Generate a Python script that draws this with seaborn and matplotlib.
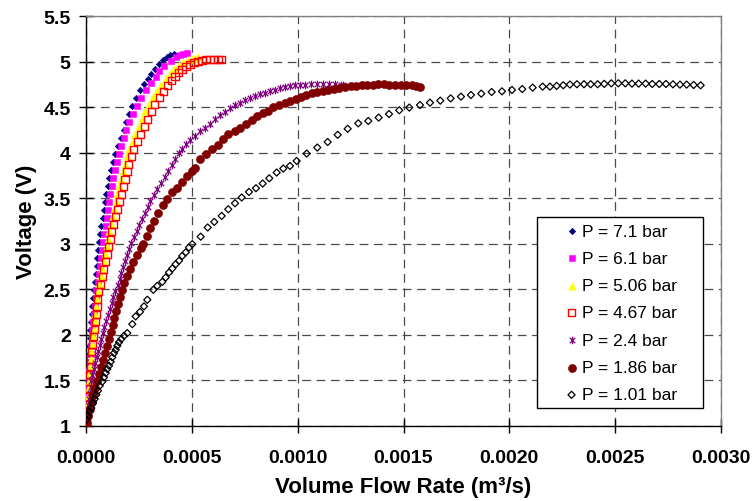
import matplotlib
matplotlib.use("Agg")
import matplotlib.pyplot as plt
from matplotlib.path import Path
from matplotlib.ticker import FixedLocator, FormatStrFormatter
import seaborn as sns

# ---------------- data ----------------
series_labels = ["P = 7.1 bar", "P = 6.1 bar", "P = 5.06 bar", "P = 4.67 bar",
                 "P = 2.4 bar", "P = 1.86 bar", "P = 1.01 bar"]

flow_71 = [0.0, 0.0000017, 0.0000033, 0.0000047, 0.0000066, 0.0000080, 0.0000099, 0.0000113,
           0.0000132, 0.0000151, 0.0000165, 0.0000184, 0.0000208, 0.0000241, 0.0000274, 0.0000307,
           0.0000340, 0.0000373, 0.0000416, 0.0000458, 0.0000501, 0.0000539, 0.0000581, 0.0000624,
           0.0000676, 0.0000728, 0.0000780, 0.0000827, 0.0000879, 0.0000945, 0.0001025, 0.0001101,
           0.0001181, 0.0001261, 0.0001370, 0.0001521, 0.0001663, 0.0001795, 0.0001913, 0.0002036,
           0.0002154, 0.0002339, 0.0002528, 0.0002717, 0.0002906, 0.0003071, 0.0003260, 0.0003449,
           0.0003638, 0.0003827, 0.0003992, 0.0004157]
volt_71 = [1.000, 1.088, 1.175, 1.263, 1.351, 1.439, 1.526, 1.614,
           1.702, 1.789, 1.877, 1.965, 2.053, 2.140, 2.228, 2.316,
           2.404, 2.491, 2.579, 2.667, 2.754, 2.842, 2.930, 3.018,
           3.105, 3.193, 3.281, 3.368, 3.456, 3.544, 3.632, 3.719,
           3.807, 3.895, 3.982, 4.070, 4.158, 4.246, 4.333, 4.421,
           4.509, 4.596, 4.684, 4.750, 4.805, 4.860, 4.914, 4.969,
           5.013, 5.046, 5.068, 5.079]

flow_61 = [0.0, 0.0000019, 0.0000043, 0.0000061, 0.0000085, 0.0000104, 0.0000128, 0.0000156,
           0.0000184, 0.0000213, 0.0000241, 0.0000274, 0.0000302, 0.0000340, 0.0000373, 0.0000406,
           0.0000454, 0.0000491, 0.0000548, 0.0000600, 0.0000657, 0.0000709, 0.0000765, 0.0000817,
           0.0000869, 0.0000926, 0.0000978, 0.0001030, 0.0001087, 0.0001143, 0.0001219, 0.0001290,
           0.0001361, 0.0001465, 0.0001564, 0.0001654, 0.0001781, 0.0001904, 0.0002031, 0.0002202,
           0.0002395, 0.0002608, 0.0002858, 0.0003094, 0.0003298, 0.0003449, 0.0003685, 0.0004016,
           0.0004252, 0.0004441, 0.0004606, 0.0004772]
volt_61 = [1.000, 1.088, 1.175, 1.263, 1.351, 1.439, 1.526, 1.614,
           1.702, 1.789, 1.877, 1.965, 2.053, 2.140, 2.228, 2.316,
           2.404, 2.491, 2.579, 2.667, 2.754, 2.842, 2.930, 3.018,
           3.105, 3.193, 3.281, 3.368, 3.456, 3.544, 3.632, 3.719,
           3.807, 3.895, 3.982, 4.070, 4.158, 4.246, 4.333, 4.421,
           4.509, 4.596, 4.684, 4.761, 4.827, 4.893, 4.947, 5.002,
           5.046, 5.068, 5.079, 5.090]

flow_506 = [0.0, 0.0000019, 0.0000043, 0.0000061, 0.0000085, 0.0000109, 0.0000128, 0.0000156,
            0.0000184, 0.0000213, 0.0000250, 0.0000288, 0.0000331, 0.0000369, 0.0000406, 0.0000439,
            0.0000477, 0.0000515, 0.0000553, 0.0000624, 0.0000699, 0.0000761, 0.0000836, 0.0000902,
            0.0000973, 0.0001039, 0.0001106, 0.0001167, 0.0001257, 0.0001328, 0.0001403, 0.0001479,
            0.0001573, 0.0001644, 0.0001739, 0.0001824, 0.0001932, 0.0002046, 0.0002197, 0.0002334,
            0.0002504, 0.0002636, 0.0002802, 0.0002972, 0.0003175, 0.0003354, 0.0003543, 0.0003756,
            0.0003969, 0.0004181, 0.0004394, 0.0004606, 0.0004819, 0.0005008, 0.0005150, 0.0005268]
volt_506 = [1.000, 1.077, 1.164, 1.241, 1.329, 1.406, 1.493, 1.570,
            1.658, 1.735, 1.822, 1.899, 1.987, 2.064, 2.151, 2.228,
            2.316, 2.393, 2.480, 2.557, 2.645, 2.721, 2.809, 2.886,
            2.974, 3.050, 3.138, 3.215, 3.303, 3.379, 3.467, 3.544,
            3.632, 3.708, 3.796, 3.873, 3.961, 4.037, 4.125, 4.202,
            4.289, 4.366, 4.454, 4.531, 4.607, 4.673, 4.739, 4.805,
            4.860, 4.914, 4.958, 4.991, 5.013, 5.030, 5.041, 5.046]

flow_467 = [0.0, 0.0000024, 0.0000047, 0.0000071, 0.0000094, 0.0000123, 0.0000142, 0.0000175,
            0.0000203, 0.0000236, 0.0000274, 0.0000317, 0.0000364, 0.0000402, 0.0000444, 0.0000482,
            0.0000520, 0.0000562, 0.0000605, 0.0000685, 0.0000765, 0.0000831, 0.0000921, 0.0000992,
            0.0001068, 0.0001143, 0.0001224, 0.0001299, 0.0001408, 0.0001507, 0.0001587, 0.0001663,
            0.0001762, 0.0001843, 0.0001937, 0.0002027, 0.0002140, 0.0002263, 0.0002433, 0.0002580,
            0.0002764, 0.0002901, 0.0003080, 0.0003250, 0.0003472, 0.0003661, 0.0003850, 0.0004039,
            0.0004205, 0.0004370, 0.0004535, 0.0004724, 0.0004913, 0.0005102, 0.0005291, 0.0005480,
            0.0005669, 0.0005858, 0.0006047, 0.0006236, 0.0006378]
volt_467 = [1.000, 1.077, 1.164, 1.241, 1.329, 1.406, 1.493, 1.570,
            1.658, 1.735, 1.822, 1.899, 1.987, 2.064, 2.151, 2.228,
            2.316, 2.393, 2.480, 2.557, 2.645, 2.721, 2.809, 2.886,
            2.974, 3.050, 3.138, 3.215, 3.303, 3.379, 3.467, 3.544,
            3.632, 3.708, 3.796, 3.873, 3.961, 4.037, 4.125, 4.202,
            4.289, 4.366, 4.454, 4.531, 4.607, 4.673, 4.739, 4.794,
            4.838, 4.882, 4.914, 4.947, 4.969, 4.991, 5.002, 5.013,
            5.019, 5.024, 5.024, 5.024, 5.024]

flow_24 = [0.0, 0.0000014, 0.0000047, 0.0000080, 0.0000113, 0.0000146, 0.0000180, 0.0000213,
           0.0000250, 0.0000307, 0.0000373, 0.0000439, 0.0000506, 0.0000572, 0.0000638, 0.0000704,
           0.0000780, 0.0000865, 0.0000950, 0.0001035, 0.0001120, 0.0001205, 0.0001290, 0.0001375,
           0.0001493, 0.0001583, 0.0001672, 0.0001767, 0.0001857, 0.0001951, 0.0002046, 0.0002117,
           0.0002258, 0.0002391, 0.0002523, 0.0002655, 0.0002787, 0.0002920, 0.0003038, 0.0003198,
           0.0003368, 0.0003539, 0.0003709, 0.0003879, 0.0004049, 0.0004214, 0.0004379, 0.0004550,
           0.0004724, 0.0004913, 0.0005150, 0.0005386, 0.0005622, 0.0005858, 0.0006094, 0.0006331,
           0.0006567, 0.0006803, 0.0007039, 0.0007276, 0.0007512, 0.0007748, 0.0007984, 0.0008220,
           0.0008457, 0.0008693, 0.0008929, 0.0009165, 0.0009402, 0.0009638, 0.0009874, 0.0010110,
           0.0010346, 0.0010630, 0.0010913, 0.0011197, 0.0011480, 0.0011764, 0.0012047, 0.0012142]
volt_24 = [1.000, 1.033, 1.099, 1.164, 1.230, 1.296, 1.362, 1.428,
           1.493, 1.559, 1.625, 1.691, 1.757, 1.822, 1.888, 1.954,
           2.020, 2.086, 2.151, 2.217, 2.283, 2.349, 2.414, 2.480,
           2.546, 2.612, 2.678, 2.743, 2.809, 2.875, 2.941, 3.007,
           3.072, 3.138, 3.204, 3.270, 3.336, 3.401, 3.467, 3.533,
           3.599, 3.664, 3.730, 3.796, 3.862, 3.928, 3.993, 4.043,
           4.092, 4.136, 4.185, 4.235, 4.275, 4.319, 4.366, 4.410,
           4.448, 4.487, 4.520, 4.547, 4.575, 4.596, 4.618, 4.640,
           4.659, 4.676, 4.693, 4.706, 4.719, 4.730, 4.739, 4.744,
           4.748, 4.750, 4.750, 4.750, 4.750, 4.750, 4.747, 4.742]

flow_186 = [0.0, 0.0000033, 0.0000113, 0.0000194, 0.0000269, 0.0000350, 0.0000430, 0.0000515,
            0.0000609, 0.0000704, 0.0000798, 0.0000893, 0.0000987, 0.0001077, 0.0001172, 0.0001257,
            0.0001342, 0.0001431, 0.0001517, 0.0001602, 0.0001687, 0.0001814, 0.0001942, 0.0002069,
            0.0002230, 0.0002409, 0.0002589, 0.0002707, 0.0002868, 0.0003024, 0.0003213, 0.0003416,
            0.0003652, 0.0003841, 0.0004049, 0.0004313, 0.0004521, 0.0004757, 0.0004994, 0.0005150,
            0.0005386, 0.0005669, 0.0005939, 0.0006213, 0.0006472, 0.0006723, 0.0007016, 0.0007276,
            0.0007559, 0.0007819, 0.0008079, 0.0008339, 0.0008598, 0.0008858, 0.0009118, 0.0009378,
            0.0009638, 0.0009898, 0.0010157, 0.0010394, 0.0010663, 0.0010927, 0.0011183, 0.0011447,
            0.0011716, 0.0011967, 0.0012236, 0.0012505, 0.0012756, 0.0013025, 0.0013290, 0.0013545,
            0.0013809, 0.0014079, 0.0014329, 0.0014598, 0.0014868, 0.0015118, 0.0015387, 0.0015591,
            0.0015780]
volt_186 = [1.000, 1.033, 1.110, 1.186, 1.263, 1.340, 1.417, 1.493,
            1.570, 1.647, 1.724, 1.800, 1.877, 1.954, 2.031, 2.107,
            2.184, 2.261, 2.338, 2.414, 2.491, 2.568, 2.645, 2.721,
            2.798, 2.875, 2.952, 2.996, 3.080, 3.168, 3.251, 3.336,
            3.423, 3.489, 3.563, 3.617, 3.681, 3.741, 3.796, 3.837,
            3.928, 3.982, 4.037, 4.081, 4.155, 4.202, 4.242, 4.273,
            4.311, 4.359, 4.402, 4.430, 4.462, 4.498, 4.525, 4.549,
            4.571, 4.591, 4.611, 4.635, 4.651, 4.666, 4.681, 4.692,
            4.703, 4.709, 4.720, 4.731, 4.736, 4.742, 4.747, 4.747,
            4.750, 4.750, 4.747, 4.747, 4.742, 4.739, 4.739, 4.734,
            4.725]

flow_101 = [0.0000033, 0.0000094, 0.0000175, 0.0000250, 0.0000331, 0.0000411, 0.0000487, 0.0000567,
            0.0000647, 0.0000770, 0.0000850, 0.0000931, 0.0001006, 0.0001087, 0.0001167, 0.0001242,
            0.0001323, 0.0001403, 0.0001479, 0.0001559, 0.0001668, 0.0001795, 0.0001951, 0.0002187,
            0.0002348, 0.0002551, 0.0002740, 0.0002896, 0.0003179, 0.0003368, 0.0003604, 0.0003765,
            0.0003921, 0.0004077, 0.0004237, 0.0004393, 0.0004549, 0.0004710, 0.0004866, 0.0005022,
            0.0005418, 0.0005749, 0.0006061, 0.0006410, 0.0006722, 0.0007039, 0.0007355, 0.0007700,
            0.0008031, 0.0008347, 0.0008659, 0.0009009, 0.0009320, 0.0009637, 0.0009953, 0.0010426,
            0.0010927, 0.0011418, 0.0011890, 0.0012363, 0.0012863, 0.0013336, 0.0013827, 0.0014314,
            0.0014800, 0.0015273, 0.0015778, 0.0016251, 0.0016737, 0.0017228, 0.0017715, 0.0018187,
            0.0018674, 0.0019165, 0.0019652, 0.0020124, 0.0020611, 0.0021102, 0.0021574, 0.0021919,
            0.0022235, 0.0022548, 0.0022864, 0.0023195, 0.0023526, 0.0023842, 0.0024173, 0.0024485,
            0.0024816, 0.0025146, 0.0025477, 0.0025793, 0.0026110, 0.0026441, 0.0026752, 0.0027083,
            0.0027400, 0.0027730, 0.0028061, 0.0028377, 0.0028708, 0.0029039]
volt_101 = [1.069, 1.113, 1.157, 1.197, 1.252, 1.296, 1.343, 1.387,
            1.442, 1.486, 1.534, 1.581, 1.625, 1.662, 1.705, 1.753,
            1.800, 1.837, 1.880, 1.918, 1.954, 1.990, 2.020, 2.118,
            2.203, 2.253, 2.313, 2.385, 2.495, 2.538, 2.582, 2.630,
            2.685, 2.729, 2.776, 2.813, 2.867, 2.905, 2.959, 2.996,
            3.078, 3.179, 3.240, 3.306, 3.379, 3.445, 3.508, 3.569,
            3.610, 3.661, 3.719, 3.782, 3.826, 3.854, 3.909, 3.990,
            4.056, 4.117, 4.196, 4.262, 4.322, 4.348, 4.385, 4.424,
            4.465, 4.495, 4.523, 4.549, 4.571, 4.596, 4.615, 4.633,
            4.648, 4.666, 4.673, 4.688, 4.698, 4.714, 4.725, 4.725,
            4.733, 4.740, 4.748, 4.751, 4.751, 4.751, 4.751, 4.755,
            4.761, 4.761, 4.761, 4.758, 4.758, 4.758, 4.754, 4.754,
            4.754, 4.750, 4.747, 4.747, 4.743, 4.739]

x_ticks = [0.0, 0.0005, 0.0010, 0.0015, 0.0020, 0.0025, 0.0030]
y_ticks = [1, 1.5, 2, 2.5, 3, 3.5, 4, 4.5, 5, 5.5]
x_label = "Volume Flow Rate (m³/s)"
y_label = "Voltage (V)"

# ---------------- style ----------------
sns.set_theme(style="ticks")
plt.rcParams['font.family'] = ['Liberation Sans', 'DejaVu Sans']

fig = plt.figure(figsize=(7.54, 5.02), dpi=100)
fig.patch.set_facecolor('white')
ax = fig.add_axes([86 / 754, 1 - 427 / 502, 635 / 754, 410 / 502])
ax.set_facecolor('white')

star = Path([(0, -1), (0, 1), (-0.72, -0.72), (0.72, 0.72), (-0.72, 0.72), (0.72, -0.72)],
            [Path.MOVETO, Path.LINETO, Path.MOVETO, Path.LINETO, Path.MOVETO, Path.LINETO])

series = [
    (flow_71, volt_71, dict(marker='D', s=11, color='#000080', edgecolor='#000080', linewidth=0.4)),
    (flow_61, volt_61, dict(marker='s', s=20, color='#FF00FF', edgecolor='#FF00FF', linewidth=0.4)),
    (flow_506, volt_506, dict(marker='^', s=28, color='#FFFF00', edgecolor='#FFFF00', linewidth=0.4)),
    (flow_467, volt_467, dict(marker='s', s=26, color='none', edgecolor='#FF0000', linewidth=1.0)),
    (flow_24, volt_24, dict(marker=star, s=30, color='#800080', edgecolor='#800080', linewidth=0.9)),
    (flow_186, volt_186, dict(marker='o', s=34, color='#800000', edgecolor='#800000', linewidth=0.4)),
    (flow_101, volt_101, dict(marker='D', s=13, color='none', edgecolor='black', linewidth=0.9)),
]

for (fx, vy, st), lab in zip(series, series_labels):
    sns.scatterplot(x=fx, y=vy, ax=ax, label=lab, zorder=3, **st)

ax.set_xlim(0, 0.003)
ax.set_ylim(1, 5.5)
ax.xaxis.set_major_locator(FixedLocator(x_ticks))
ax.yaxis.set_major_locator(FixedLocator(y_ticks))
ax.xaxis.set_major_formatter(FormatStrFormatter('%.4f'))
ax.yaxis.set_major_formatter(FormatStrFormatter('%g'))

ax.set_axisbelow(True)
ax.grid(True, color='#4a4a4a', linestyle=(0, (7, 4.5)), linewidth=0.9)

for side in ['left', 'bottom']:
    ax.spines[side].set_color('black')
    ax.spines[side].set_linewidth(1.0)
for side in ['top', 'right']:
    ax.spines[side].set_color('#808080')
    ax.spines[side].set_linewidth(1.0)

ax.tick_params(axis='x', direction='inout', length=10, width=1, color='black',
               labelsize=14, pad=11.5, bottom=True, top=False)
ax.tick_params(axis='y', direction='inout', length=10, width=1, color='black',
               labelsize=14, pad=6, left=True, right=False)
for t in ax.get_xticklabels() + ax.get_yticklabels():
    t.set_fontweight('bold')
    t.set_color('black')

ax.set_xlabel(x_label, fontsize=16, fontweight='bold', color='black', labelpad=7)
ax.set_ylabel(y_label, fontsize=16, fontweight='bold', color='black', labelpad=5)

leg = ax.legend(loc='upper left', bbox_to_anchor=(0.7098, 0.0, 0.2624, 0.509),
                mode='expand', borderaxespad=0, borderpad=0.35, labelspacing=0.70,
                handlelength=3.31, handletextpad=-1.08, fontsize=12.5,
                fancybox=False, framealpha=1, edgecolor='black', scatterpoints=1)
leg.get_frame().set_linewidth(1.0)
for t in leg.get_texts():
    t.set_color('black')

fig.savefig('out.png', dpi=100, facecolor='white')
